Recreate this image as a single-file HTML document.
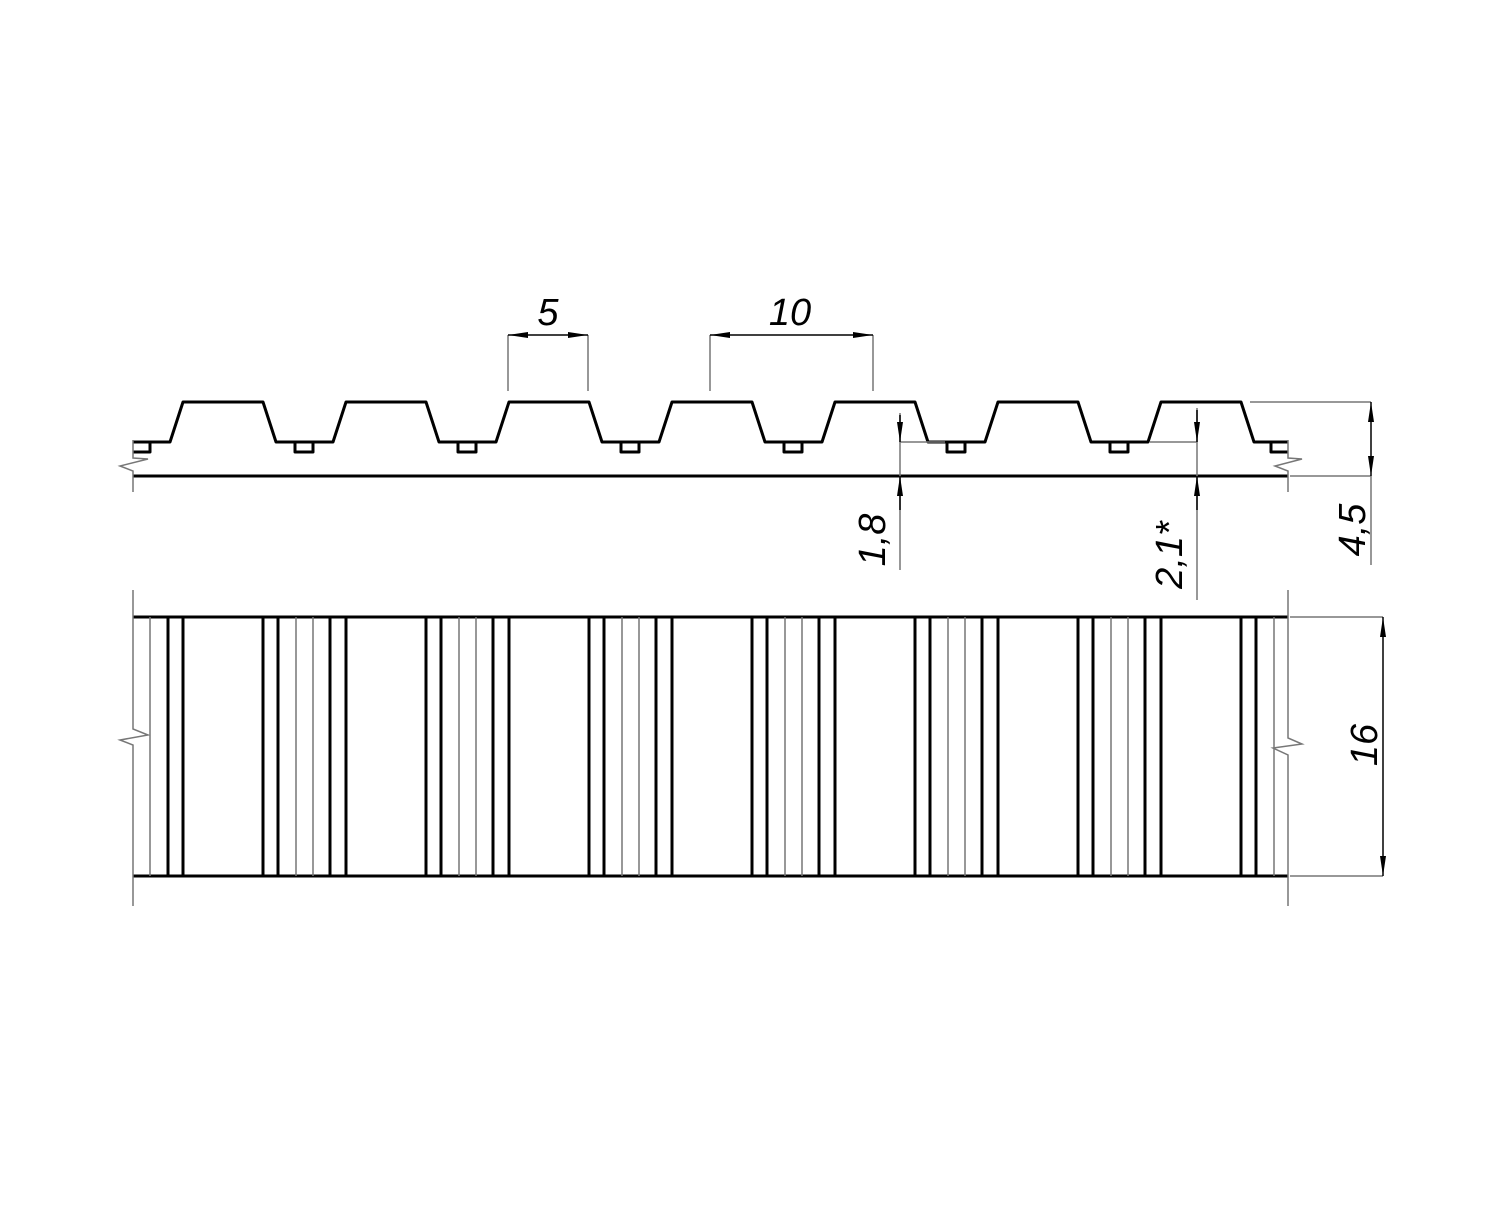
<!DOCTYPE html>
<html><head><meta charset="utf-8"><style>html,body{margin:0;padding:0;background:#fff}</style></head>
<body>
<svg width="1500" height="1200" viewBox="0 0 1500 1200" xmlns="http://www.w3.org/2000/svg">
<defs>
<marker id="a" viewBox="0 0 20 8" refX="20" refY="4" markerWidth="20" markerHeight="8" markerUnits="userSpaceOnUse" orient="auto"><path d="M0,1 L20,4 L0,7 Z" fill="#000"/></marker>
</defs>
<rect width="1500" height="1200" fill="#fff"/>
<g fill="none" stroke="#000" stroke-width="3" stroke-linejoin="round">
<path d="M133,442 L150,442 L170,442 L183,402 L263,402 L276,442 L295,442 L313,442 L333,442 L346,402 L426,402 L439,442 L458,442 L476,442 L496,442 L509,402 L589,402 L602,442 L621,442 L639,442 L659,442 L672,402 L752,402 L765,442 L784,442 L802,442 L822,442 L835,402 L915,402 L928,442 L947,442 L965,442 L985,442 L998,402 L1078,402 L1091,442 L1110,442 L1128,442 L1148,442 L1161,402 L1241,402 L1254,442 L1288,442"/>
<path d="M133,452 L150,452 L150,442"/>
<path d="M1271,442 L1271,452 L1288,452"/>
<path d="M295,442 V452 H313 V442 M458,442 V452 H476 V442 M621,442 V452 H639 V442 M784,442 V452 H802 V442 M947,442 V452 H965 V442 M1110,442 V452 H1128 V442"/>
<line x1="133" y1="476" x2="1288" y2="476"/>
<line x1="133" y1="617" x2="1288" y2="617"/>
<line x1="133" y1="876" x2="1288" y2="876"/>
<path d="M168,617V876M183,617V876M263,617V876M278,617V876M330,617V876M346,617V876M426,617V876M441,617V876M493,617V876M509,617V876M589,617V876M604,617V876M656,617V876M672,617V876M752,617V876M767,617V876M819,617V876M835,617V876M915,617V876M930,617V876M982,617V876M998,617V876M1078,617V876M1093,617V876M1145,617V876M1161,617V876M1241,617V876M1256,617V876"/>
</g>
<g fill="none" stroke="#777" stroke-width="1.5">
<path d="M150,617V876M296,617V876M313,617V876M459,617V876M476,617V876M622,617V876M639,617V876M785,617V876M802,617V876M948,617V876M965,617V876M1111,617V876M1128,617V876M1274,617V876"/>
<path d="M133,440 V458 L148,459 L120,466 L133,471 V492"/>
<path d="M1288,440 V458 L1302,459 L1275,466 L1288,471 V492"/>
<path d="M133,590 V729 L148,735 L120,740 L133,745 V906"/>
<path d="M1288,590 V738 L1302,744 L1273,748 L1288,755 V906"/>
<path d="M508,391 V335 M588,391 V335 M710,391 V335 M873,391 V335"/>
<path d="M900,442 H945 M1150,442 H1197 M1250,402 H1371 M1290,476 H1371 M1290,617 H1383 M1290,876 H1383"/>
<path d="M900,413 V570 M1197,408 V600 M1371,476 V565"/>
</g>
<g stroke="#000" stroke-width="1.5" fill="none">
<line x1="548" y1="335" x2="508" y2="335" marker-end="url(#a)"/>
<line x1="548" y1="335" x2="588" y2="335" marker-end="url(#a)"/>
<line x1="790" y1="335" x2="710" y2="335" marker-end="url(#a)"/>
<line x1="790" y1="335" x2="873" y2="335" marker-end="url(#a)"/>
<line x1="900" y1="415" x2="900" y2="442" marker-end="url(#a)"/>
<line x1="900" y1="510" x2="900" y2="476" marker-end="url(#a)"/>
<line x1="1197" y1="410" x2="1197" y2="442" marker-end="url(#a)"/>
<line x1="1197" y1="510" x2="1197" y2="476" marker-end="url(#a)"/>
<line x1="1371" y1="440" x2="1371" y2="402" marker-end="url(#a)"/>
<line x1="1371" y1="440" x2="1371" y2="476" marker-end="url(#a)"/>
<line x1="1383" y1="746" x2="1383" y2="617" marker-end="url(#a)"/>
<line x1="1383" y1="746" x2="1383" y2="876" marker-end="url(#a)"/>
</g>
<g font-family="Liberation Sans, sans-serif" font-style="italic" font-size="38" fill="#000" text-anchor="middle">
<text x="548" y="325">5</text>
<text x="790" y="325">10</text>
<text transform="translate(885,540) rotate(-90)">1,8</text>
<text transform="translate(1182,555) rotate(-90)">2,1*</text>
<text transform="translate(1365,530) rotate(-90)">4,5</text>
<text transform="translate(1377,745) rotate(-90)">16</text>
</g>
</svg>
</body></html>
